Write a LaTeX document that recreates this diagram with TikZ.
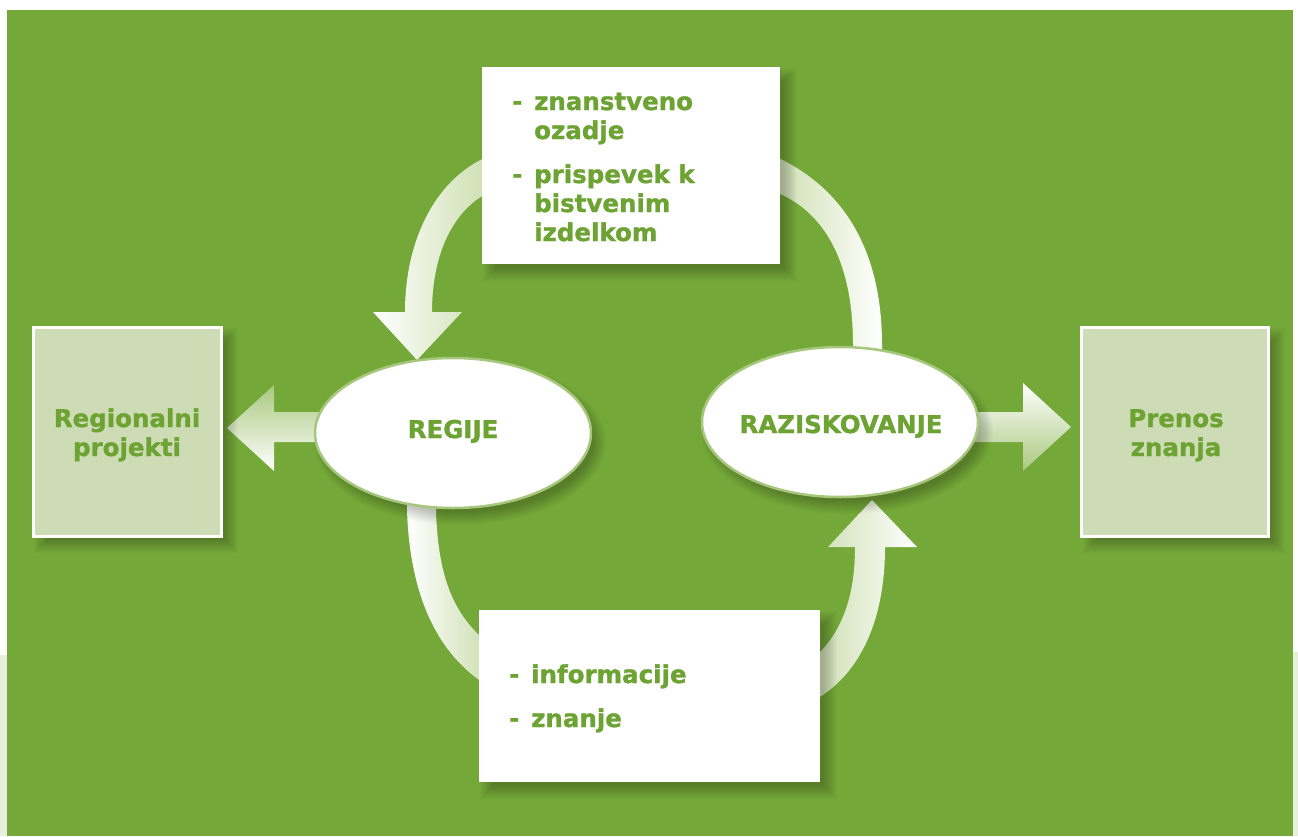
\documentclass[tikz,border=0pt]{standalone}
\usepackage{fontspec}
\setmainfont{DejaVu Sans}[BoldFeatures={FakeBold=1.2}]
\usetikzlibrary{shapes.geometric}
\pgfdeclarelayer{back}
\pgfdeclarelayer{conn}
\pgfdeclarelayer{shad}
\pgfsetlayers{back,conn,shad,main}
\definecolor{bgg}{HTML}{74A838}
\definecolor{txtg}{HTML}{6CA332}
\definecolor{sidef}{HTML}{CEDCB5}
\definecolor{ellb}{HTML}{A8C77E}
\definecolor{arcg}{HTML}{C9DCAA}
\definecolor{headg}{HTML}{A9C87F}
\definecolor{paleg}{HTML}{E8F0DD}
\newcommand\myboxshadow[4]{%
  \foreach \i in {1,...,14}{%
    \fill[black,opacity=0.017] ({#1+9+6-\i},{#2+9+6-\i}) rectangle ({#3+9-6+\i},{#4+9-6+\i});
  }}
\newcommand\myellshadow[4]{%
  \foreach \i in {1,...,14}{%
    \pgfmathsetmacro\myrx{#3+\i-6}
    \pgfmathsetmacro\myry{#4+\i-6}
    \fill[black,opacity=0.017] ({#1+7},{#2+9}) ellipse [x radius=\myrx pt, y radius=\myry pt];
  }}
\tikzset{
  txt/.style={font=\fontsize{24.5}{29}\selectfont\bfseries, text=txtg, inner sep=0pt},
  ell/.style={ellipse, draw=ellb, line width=2.5pt, fill=white, minimum width=276pt, minimum height=150pt, inner sep=0pt},
  sidebox/.style={rectangle, draw=white, line width=3pt, fill=sidef, minimum width=188pt, minimum height=209pt, inner sep=0pt},
  whitebox/.style={rectangle, fill=white, inner sep=0pt},
  arcL/.style={left color=white, right color=arcg},
  arcR/.style={left color=arcg, right color=white},
}
\begin{document}
\begin{tikzpicture}[x=1pt,y=-1pt]
\useasboundingbox (0,0) rectangle (1298,836);
\begin{pgfonlayer}{back}
  \fill[white] (0,0) rectangle (1298,836);
  \fill[paleg] (0,655) rectangle (7,836);
  \fill[paleg] (1293,652) rectangle (1298,836);
  \fill[bgg] (7,10) rectangle (1293,836);
\end{pgfonlayer}

% nodes
\node[ell] (reg) at (453,433) {};
\node[ell] (raz) at (840,422) {};
\node[txt, anchor=base] (regt) at (453,438) {REGIJE};
\node[txt, anchor=base] (razt) at (841,433) {RAZISKOVANJE};

\node[sidebox] (rp) at (127,431.5) {};
\node[sidebox, minimum width=187pt] (pz) at (1175,431.5) {};
\node[txt, anchor=base] (rp1) at (127,427) {Regionalni};
\node[txt, anchor=base] (rp2) at (127,456) {projekti};
\node[txt, anchor=base] (pz1) at (1176,427) {Prenos};
\node[txt, anchor=base] (pz2) at (1176,456) {znanja};

\node[whitebox, minimum width=298pt, minimum height=197pt] (top) at (631,165.5) {};
\node[whitebox, minimum width=341pt, minimum height=172pt] (bot) at (649.5,696) {};

\node[txt, anchor=base west] (t1) at (512,110) {\makebox[22pt][l]{-}znanstveno};
\node[txt, anchor=base west] (t2) at (534,139) {ozadje};
\node[txt, anchor=base west] (t3) at (512,183) {\makebox[22pt][l]{-}prispevek k};
\node[txt, anchor=base west] (t4) at (534,212) {bistvenim};
\node[txt, anchor=base west] (t5) at (534,241) {izdelkom};

\node[txt, anchor=base west] (b1) at (509,683) {\makebox[22pt][l]{-}informacije};
\node[txt, anchor=base west] (b2) at (509,727) {\makebox[22pt][l]{-}znanje};

% connectors
\begin{pgfonlayer}{conn}
  % top: RAZISKOVANJE -> (behind box) -> REGIJE
  \shade[arcR] (882,370) -- (882,345) .. controls (882,240) and (835,180) .. (765,152)
     -- (765,188) .. controls (820,205) and (853,255) .. (853,345) -- (853,370) -- cycle;
  \shade[arcL] (373,312) -- (405,312) .. controls (405,235) and (440,170) .. (500,152)
     -- (500,188) .. controls (460,200) and (432,245) .. (432,312) -- (462,312) -- (417,360) -- cycle;
  % bottom: REGIJE -> (behind box) -> RAZISKOVANJE
  \shade[arcL] (407,495) -- (407,510) .. controls (410,600) and (440,660) .. (495,690)
     -- (495,648) .. controls (455,620) and (438,580) .. (436,510) -- (436,495) -- cycle;
  \shade[arcR] (805,665) .. controls (840,640) and (855,600) .. (855,547) -- (828,547) -- (872,500)
     -- (917,547) -- (885,547) .. controls (885,620) and (860,680) .. (805,705) -- cycle;
  % straight arrows
  \shade[top color=headg, bottom color=white] (335,412) -- (274,412) -- (274,385) -- (227,428)
     -- (274,471) -- (274,442) -- (335,442) -- cycle;
  \shade[top color=white, bottom color=headg] (960,412) -- (1023,412) -- (1023,383) -- (1071,427)
     -- (1023,471) -- (1023,442) -- (960,442) -- cycle;
\end{pgfonlayer}

% shadows
\begin{pgfonlayer}{shad}
  \myboxshadow{33}{327}{221}{536}
  \myboxshadow{1082}{327}{1268}{536}
  \myboxshadow{482}{67}{780}{264}
  \myboxshadow{479}{610}{820}{782}
  \myellshadow{453}{433}{138}{75}
  \myellshadow{840}{422}{138}{75}
\end{pgfonlayer}
\end{tikzpicture}
\end{document}
